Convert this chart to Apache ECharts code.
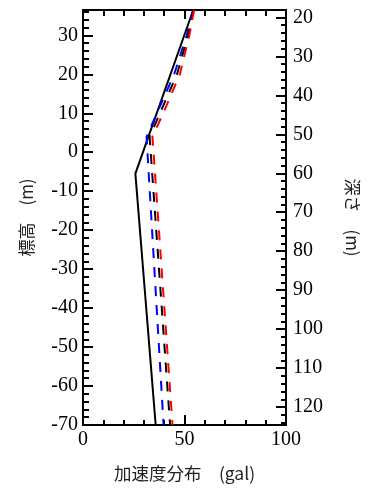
<!DOCTYPE html>
<html>
<head>
<meta charset="utf-8">
<script src="https://cdn.jsdelivr.net/npm/echarts@6/dist/echarts.min.js"></script>
<style>
html,body{margin:0;padding:0;background:#fff;}
#c{width:369px;height:489px;}
</style>
</head>
<body>
<div id="c"></div>
<script>
// Elevation (m) of the data points, accelerations (gal)
const elevDashed = [36.5, 30, 20, 10, 4, -70];
const blueAcc = [54.3, 51.1, 44.9, 36.4, 31.3, 39.7];
const blackDashAcc = [54.5, 51.8, 46.3, 37.9, 32.8, 42.9];
const redAcc = [54.7, 52.4, 47.7, 39.5, 34.2, 44.1];
const elevSolid = [36.5, -5.5, -70];
const solidAcc = [54.3, 25.8, 35.8];

const elevMin = -70, elevMax = 36.5;
const depthOffset = 54.6; // depth = offset - elevation
const xTickLabels = ['0', '50', '100'];

function pairs(xs, ys) { return xs.map((x, i) => [x, ys[i]]); }

const chart = echarts.init(document.getElementById('c'));
const serif = 'Liberation Serif';
const cjk = 'Noto Sans CJK JP';
const lineStyleAxis = { color: '#000', width: 2 };

function xAx(pos, showLabel) {
  return {
    type: 'value', position: pos, min: 0, max: 100, interval: 50,
    axisLine: { show: true, onZero: false, lineStyle: lineStyleAxis },
    axisTick: { show: true, inside: true, length: pos === 'top' ? 9 : 10, lineStyle: { width: 2, color: '#000' } },
    minorTick: { show: true, splitNumber: 5, length: pos === 'top' ? 6 : 5, lineStyle: { width: 2, color: '#000' } },
    splitLine: { show: false }, minorSplitLine: { show: false },
    axisLabel: { show: showLabel, fontFamily: serif, fontSize: 20, color: '#000', margin: 5,
      formatter: v => xTickLabels.includes(String(v)) ? String(v) : '' },
    name: showLabel ? '加速度分布　(gal)' : '',
    nameLocation: 'middle', nameGap: 40,
    nameTextStyle: { fontFamily: cjk, fontSize: 17.5, color: '#222' }
  };
}

const option = {
  animation: false,
  grid: { left: 83, right: 78, top: 10, bottom: 64, containLabel: false },
  xAxis: [xAx('bottom', true), xAx('top', false)],
  yAxis: [
    {
      type: 'value', position: 'left', min: elevMin, max: elevMax, splitNumber: 10,
      axisLine: { show: true, onZero: false, lineStyle: lineStyleAxis },
      axisTick: { show: true, inside: true, length: 10, lineStyle: { width: 2, color: '#000' } },
      splitLine: { show: false },
      axisLabel: { fontFamily: serif, fontSize: 20, color: '#000', margin: 5, showMaxLabel: false },
      name: '標高　(m)', nameLocation: 'middle', nameRotate: 90, nameGap: 48,
      nameTextStyle: { fontFamily: cjk, fontSize: 17, color: '#222' }
    },
    {
      type: 'value', position: 'left', min: elevMin, max: elevMax, splitNumber: 53,
      axisLine: { show: false, onZero: false },
      axisTick: { show: true, inside: true, length: 6, lineStyle: { width: 2, color: '#000' } },
      splitLine: { show: false }, axisLabel: { show: false }
    },
    {
      type: 'value', position: 'right', inverse: true,
      min: depthOffset - elevMax, max: depthOffset - elevMin, splitNumber: 10,
      axisLine: { show: true, onZero: false, lineStyle: lineStyleAxis },
      axisTick: { show: true, inside: true, length: 10, lineStyle: { width: 2, color: '#000' } },
      splitLine: { show: false },
      axisLabel: { fontFamily: serif, fontSize: 20, color: '#000', margin: 7, showMinLabel: false, showMaxLabel: false },
      name: '深さ　(m)', nameLocation: 'middle', nameRotate: -90, nameGap: 58,
      nameTextStyle: { fontFamily: cjk, fontSize: 17, color: '#222' }
    },
    {
      type: 'value', position: 'right', inverse: true,
      min: depthOffset - elevMax, max: depthOffset - elevMin, splitNumber: 53,
      axisLine: { show: false, onZero: false },
      axisTick: { show: true, inside: true, length: 5, lineStyle: { width: 2, color: '#000' } },
      splitLine: { show: false }, axisLabel: { show: false }
    }
  ],
  series: [
    { type: 'line', xAxisIndex: 0, yAxisIndex: 0, data: pairs(solidAcc, elevSolid), symbol: 'none',
      lineStyle: { color: '#000', width: 2 }, z: 3 },
    { type: 'line', xAxisIndex: 0, yAxisIndex: 0, data: pairs(blueAcc, elevDashed), symbol: 'none',
      lineStyle: { color: '#0000ff', width: 2, type: [10, 9] }, z: 4 },
    { type: 'line', xAxisIndex: 0, yAxisIndex: 0, data: pairs(blackDashAcc, elevDashed), symbol: 'none',
      lineStyle: { color: '#000', width: 2, type: [10, 9] }, z: 4 },
    { type: 'line', xAxisIndex: 0, yAxisIndex: 0, data: pairs(redAcc, elevDashed), symbol: 'none',
      lineStyle: { color: '#ff0000', width: 2, type: [10, 9] }, z: 4 }
  ]
};
chart.setOption(option);
</script>
</body>
</html>
